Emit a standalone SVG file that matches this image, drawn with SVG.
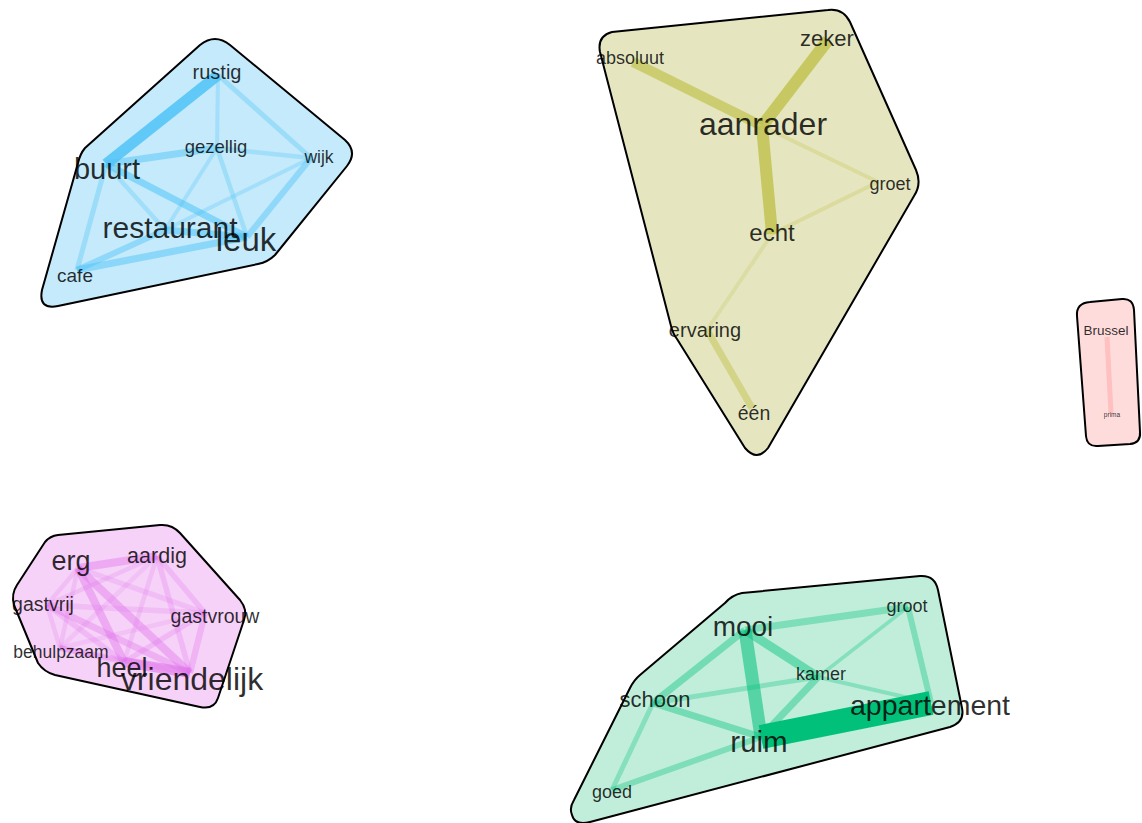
<svg xmlns="http://www.w3.org/2000/svg" width="1142" height="823" viewBox="0 0 1142 823">
<style>
.hull{stroke:#000;stroke-width:2;stroke-linejoin:round}
.e{fill:none;stroke-linecap:butt}
.b{stroke:#4fc3f7}
.o{stroke:#c2c250}
.r{stroke:#ffb3b3}
.p{stroke:#e070ea}
.g{stroke:#00c07a}
text{font-family:"Liberation Sans",Arial,sans-serif;fill:#000;fill-opacity:0.82;text-anchor:middle}
</style>
<rect width="1142" height="823" fill="#fff"/>
<g id="hulls">
<path class="hull" fill="#c4eafb" d="M 85,148 L 200,45 Q 215,33 230,45 L 345,140 Q 358,152 347,166 L 275,255 Q 268,262 258,264 L 58,306 Q 38,310 42,290 L 78,163 Q 80,154 85,148 Z"/>
<path class="hull" fill="#e5e6c0" d="M 612,32 L 828,10 Q 843,8 850,22 L 916,170 Q 922,184 914,196 L 768,448 Q 757,462 745,448 L 677,339 Q 673,334 671,326 L 600,52 Q 597,36 612,32 Z"/>
<path class="hull" fill="#ffdcdc" d="M 1090,302 L 1122,299 Q 1133,298 1134,310 L 1140,432 Q 1141,443 1130,444 L 1098,446 Q 1087,447 1086,436 L 1077,316 Q 1076,303 1090,302 Z"/>
<path class="hull" fill="#f6d1f8" d="M 58,535 L 160,525 Q 172,524 180,533 L 240,600 Q 248,610 244,620 L 218,698 Q 214,710 200,707 L 55,675 Q 44,672 38,663 L 14,605 Q 11,594 17,585 L 45,542 Q 50,536 58,535 Z"/>
<path class="hull" fill="#c0eedb" d="M 742,593 L 920,576 Q 935,575 938,590 L 962,708 Q 965,722 950,727 L 590,822 Q 575,826 572,815 Q 569,808 574,800 L 630,688 Q 634,680 640,675 L 725,603 Q 732,595 742,593 Z"/>
</g>
<g id="connectors">
<!-- blue -->
<line class="e b" x1="218" y1="75" x2="106" y2="164" stroke-width="11" stroke-opacity="0.85"/>
<line class="e b" x1="106" y1="164" x2="217" y2="148" stroke-width="7" stroke-opacity="0.5"/>
<line class="e b" x1="106" y1="164" x2="247" y2="237" stroke-width="7" stroke-opacity="0.55"/>
<line class="e b" x1="106" y1="164" x2="165" y2="230" stroke-width="4.5" stroke-opacity="0.3"/>
<line class="e b" x1="106" y1="164" x2="77" y2="270" stroke-width="5" stroke-opacity="0.35"/>
<line class="e b" x1="218" y1="75" x2="217" y2="148" stroke-width="4" stroke-opacity="0.28"/>
<line class="e b" x1="218" y1="75" x2="311" y2="158" stroke-width="5" stroke-opacity="0.35"/>
<line class="e b" x1="217" y1="148" x2="311" y2="158" stroke-width="4.5" stroke-opacity="0.3"/>
<line class="e b" x1="217" y1="148" x2="247" y2="237" stroke-width="4.5" stroke-opacity="0.32"/>
<line class="e b" x1="217" y1="148" x2="165" y2="230" stroke-width="4" stroke-opacity="0.28"/>
<line class="e b" x1="311" y1="158" x2="247" y2="237" stroke-width="6" stroke-opacity="0.45"/>
<line class="e b" x1="311" y1="158" x2="165" y2="230" stroke-width="4" stroke-opacity="0.28"/>
<line class="e b" x1="165" y1="230" x2="247" y2="237" stroke-width="7" stroke-opacity="0.55"/>
<line class="e b" x1="77" y1="270" x2="165" y2="230" stroke-width="6" stroke-opacity="0.45"/>
<line class="e b" x1="77" y1="270" x2="247" y2="237" stroke-width="7" stroke-opacity="0.5"/>
<!-- olive -->
<line class="e o" x1="633" y1="62" x2="762" y2="126" stroke-width="10" stroke-opacity="0.7"/>
<line class="e o" x1="828" y1="40" x2="762" y2="126" stroke-width="12" stroke-opacity="0.85"/>
<line class="e o" x1="762" y1="126" x2="772" y2="234" stroke-width="12" stroke-opacity="0.85"/>
<line class="e o" x1="762" y1="126" x2="878" y2="182" stroke-width="4" stroke-opacity="0.3"/>
<line class="e o" x1="772" y1="234" x2="878" y2="182" stroke-width="4" stroke-opacity="0.3"/>
<line class="e o" x1="772" y1="234" x2="707" y2="330" stroke-width="4" stroke-opacity="0.25"/>
<line class="e o" x1="707" y1="330" x2="752" y2="408" stroke-width="7" stroke-opacity="0.5"/>
<!-- red -->
<line class="e r" x1="1107" y1="337" x2="1111" y2="413" stroke-width="5" stroke-opacity="0.7"/>
<!-- pink -->
<line class="e p" x1="78" y1="568" x2="157" y2="556" stroke-width="8" stroke-opacity="0.4"/>
<line class="e p" x1="78" y1="568" x2="124" y2="662" stroke-width="8" stroke-opacity="0.4"/>
<line class="e p" x1="78" y1="568" x2="190" y2="673" stroke-width="8" stroke-opacity="0.4"/>
<line class="e p" x1="124" y1="662" x2="190" y2="673" stroke-width="10" stroke-opacity="0.55"/>
<line class="e p" x1="47" y1="605" x2="190" y2="673" stroke-width="6.5" stroke-opacity="0.35"/>
<line class="e p" x1="47" y1="605" x2="124" y2="662" stroke-width="5.5" stroke-opacity="0.25"/>
<line class="e p" x1="47" y1="605" x2="205" y2="613" stroke-width="5.5" stroke-opacity="0.2"/>
<line class="e p" x1="47" y1="605" x2="78" y2="568" stroke-width="4.5" stroke-opacity="0.2"/>
<line class="e p" x1="47" y1="605" x2="157" y2="556" stroke-width="4.5" stroke-opacity="0.2"/>
<line class="e p" x1="60" y1="648" x2="78" y2="568" stroke-width="4.5" stroke-opacity="0.2"/>
<line class="e p" x1="60" y1="648" x2="157" y2="556" stroke-width="4.5" stroke-opacity="0.16"/>
<line class="e p" x1="60" y1="648" x2="190" y2="673" stroke-width="5.5" stroke-opacity="0.25"/>
<line class="e p" x1="60" y1="648" x2="124" y2="662" stroke-width="5.5" stroke-opacity="0.25"/>
<line class="e p" x1="60" y1="648" x2="47" y2="605" stroke-width="4.5" stroke-opacity="0.2"/>
<line class="e p" x1="60" y1="648" x2="205" y2="613" stroke-width="4.5" stroke-opacity="0.16"/>
<line class="e p" x1="157" y1="556" x2="124" y2="662" stroke-width="4.5" stroke-opacity="0.2"/>
<line class="e p" x1="157" y1="556" x2="190" y2="673" stroke-width="5.5" stroke-opacity="0.25"/>
<line class="e p" x1="157" y1="556" x2="205" y2="613" stroke-width="5.5" stroke-opacity="0.25"/>
<line class="e p" x1="205" y1="613" x2="124" y2="662" stroke-width="5.5" stroke-opacity="0.25"/>
<line class="e p" x1="205" y1="613" x2="190" y2="673" stroke-width="6.5" stroke-opacity="0.3"/>
<line class="e p" x1="78" y1="568" x2="205" y2="613" stroke-width="5.5" stroke-opacity="0.2"/>
<!-- green -->
<line class="e g" x1="761" y1="737" x2="931" y2="703" stroke-width="24" stroke-opacity="1"/>
<line class="e g" x1="745" y1="630" x2="761" y2="737" stroke-width="13" stroke-opacity="0.55"/>
<line class="e g" x1="745" y1="630" x2="818" y2="677" stroke-width="9" stroke-opacity="0.45"/>
<line class="e g" x1="745" y1="630" x2="908" y2="607" stroke-width="7" stroke-opacity="0.35"/>
<line class="e g" x1="745" y1="630" x2="653" y2="703" stroke-width="7" stroke-opacity="0.4"/>
<line class="e g" x1="653" y1="703" x2="761" y2="737" stroke-width="7" stroke-opacity="0.4"/>
<line class="e g" x1="653" y1="703" x2="818" y2="677" stroke-width="5" stroke-opacity="0.3"/>
<line class="e g" x1="653" y1="703" x2="612" y2="790" stroke-width="5" stroke-opacity="0.3"/>
<line class="e g" x1="612" y1="790" x2="761" y2="737" stroke-width="6" stroke-opacity="0.35"/>
<line class="e g" x1="818" y1="677" x2="761" y2="737" stroke-width="7" stroke-opacity="0.4"/>
<line class="e g" x1="818" y1="677" x2="908" y2="607" stroke-width="3.5" stroke-opacity="0.3"/>
<line class="e g" x1="818" y1="677" x2="931" y2="703" stroke-width="4" stroke-opacity="0.3"/>
<line class="e g" x1="908" y1="607" x2="931" y2="703" stroke-width="6" stroke-opacity="0.35"/>
</g>
<g id="node-rustig"><text x="217" y="79" font-size="20">rustig</text></g>
<g id="node-gezellig"><text x="216" y="153" font-size="18.5">gezellig</text></g>
<g id="node-wijk"><text x="319" y="163" font-size="17.5">wijk</text></g>
<g id="node-buurt"><text x="107" y="179" font-size="29">buurt</text></g>
<g id="node-restaurant"><text x="170" y="238" font-size="30">restaurant</text></g>
<g id="node-leuk"><text x="246" y="251" font-size="33">leuk</text></g>
<g id="node-cafe"><text x="75" y="282" font-size="19">cafe</text></g>
<g id="node-absoluut"><text x="630" y="64" font-size="18">absoluut</text></g>
<g id="node-zeker"><text x="827" y="46" font-size="22">zeker</text></g>
<g id="node-aanrader"><text x="763" y="135" font-size="32">aanrader</text></g>
<g id="node-groet"><text x="890" y="190" font-size="18">groet</text></g>
<g id="node-echt"><text x="772" y="241" font-size="24">echt</text></g>
<g id="node-ervaring"><text x="705" y="337" font-size="20">ervaring</text></g>
<g id="node-een"><text x="754" y="420" font-size="19.5">één</text></g>
<g id="node-brussel"><text x="1106" y="335" font-size="13.5">Brussel</text></g>
<g id="node-prima"><text x="1112" y="417" font-size="6.5">prima</text></g>
<g id="node-erg"><text x="71" y="570" font-size="27">erg</text></g>
<g id="node-aardig"><text x="157" y="563" font-size="21.5">aardig</text></g>
<g id="node-gastvrij"><text x="43" y="611" font-size="19.5">gastvrij</text></g>
<g id="node-gastvrouw"><text x="215" y="623" font-size="19.5">gastvrouw</text></g>
<g id="node-behulpzaam"><text x="61" y="658" font-size="17.5">behulpzaam</text></g>
<g id="node-heel"><text x="122" y="677" font-size="27">heel</text></g>
<g id="node-vriendelijk"><text x="192" y="690" font-size="32">vriendelijk</text></g>
<g id="node-mooi"><text x="743" y="636" font-size="28">mooi</text></g>
<g id="node-groot"><text x="907" y="612" font-size="18">groot</text></g>
<g id="node-kamer"><text x="821" y="680" font-size="18">kamer</text></g>
<g id="node-schoon"><text x="655" y="707" font-size="22">schoon</text></g>
<g id="node-appartement"><text x="930" y="715" font-size="28.5">appartement</text></g>
<g id="node-ruim"><text x="759" y="752" font-size="29.5">ruim</text></g>
<g id="node-goed"><text x="612" y="798" font-size="18">goed</text></g>
</svg>
